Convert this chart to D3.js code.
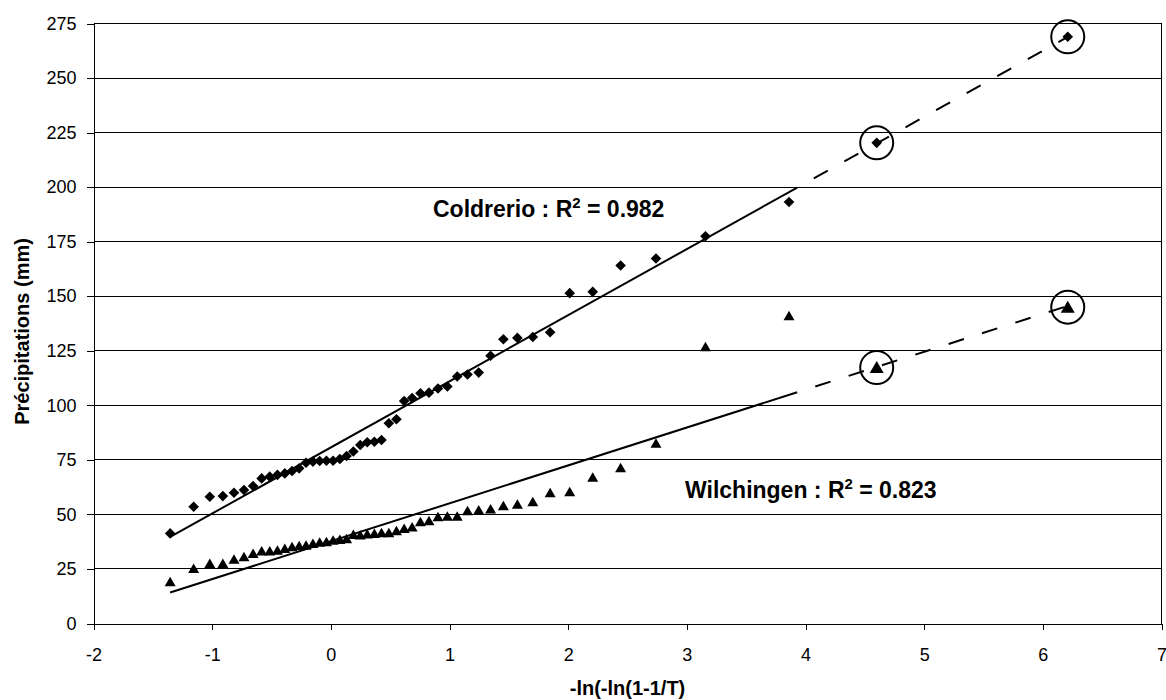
<!DOCTYPE html>
<html>
<head>
<meta charset="utf-8">
<script src="https://cdn.jsdelivr.net/npm/d3@7"></script>
<style>
  body { margin: 0; background: #fff; }
  svg { display: block; font-family: "Liberation Sans", Arial, sans-serif; }
</style>
</head>
<body>
<svg id="chart" width="1166" height="700"></svg>
<script>
// ---- data ----
// Gumbel reduced variate -ln(-ln(1-1/T)) of each ranked observation
const xValues = [-1.354, -1.156, -1.020, -0.910, -0.816, -0.732, -0.655, -0.583, -0.515, -0.450,
  -0.388, -0.327, -0.267, -0.209, -0.151, -0.094, -0.037, 0.019, 0.076, 0.133,
  0.190, 0.248, 0.307, 0.367, 0.427, 0.489, 0.553, 0.618, 0.685, 0.755,
  0.827, 0.903, 0.982, 1.065, 1.152, 1.246, 1.346, 1.454, 1.572, 1.702,
  1.848, 2.013, 2.207, 2.442, 2.740, 3.157, 3.861];
const coldrerio = [41.3, 53.5, 58.1, 58.4, 59.9, 61.2, 63.0, 66.5, 67.3, 68.1,
  68.8, 69.9, 71.1, 73.7, 74.2, 74.5, 74.6, 74.6, 75.4, 76.8,
  78.8, 81.8, 83.1, 83.3, 84.1, 91.8, 93.6, 102.0, 103.3, 105.5,
  105.8, 107.7, 108.6, 113.2, 114.1, 115.0, 122.7, 130.3, 130.9, 131.3,
  133.5, 151.4, 152.0, 164.1, 167.3, 177.5, 193.2];
const wilchingen = [19.1, 25.2, 27.5, 27.5, 29.5, 30.6, 32.1, 33.2, 33.2, 33.6,
  34.4, 35.2, 35.6, 35.9, 36.7, 37.2, 37.5, 38.2, 38.5, 38.8,
  40.8, 40.6, 41.0, 41.3, 41.6, 41.6, 42.5, 43.5, 44.2, 46.6,
  47.1, 48.9, 49.2, 49.2, 51.7, 52.0, 52.5, 54.0, 54.7, 55.8,
  59.9, 60.4, 67.0, 71.4, 82.6, 126.9, 141.0];
// extrapolated (circled) values for T = 100 and T = 500 years
const extrapX = [4.60, 6.21];
const coldrerioExtrap = [220.3, 268.9];
const wilchingenExtrap = [117.3, 145.0];
// fitted Gumbel lines (slope, intercept)
const fitSlopes = [30.3, 17.37];
const fitIntercepts = [80.7, 37.7];
const fitSolidRange = [-1.354, 3.93];
const fitDashRange = [3.93, 6.21];
const seriesNames = ["Coldrerio", "Wilchingen"];
const r2Values = ["0.982", "0.823"];
const xTicks = [-2, -1, 0, 1, 2, 3, 4, 5, 6, 7];
const yTicks = [0, 25, 50, 75, 100, 125, 150, 175, 200, 225, 250, 275];

// ---- layout ----
const svg = d3.select("#chart");
const plotL = 93.5, plotR = 1161.5, plotT = 23.5, plotB = 623.5;
const x = d3.scaleLinear().domain([-2, 7]).range([plotL, plotR]);
const y = d3.scaleLinear().domain([0, 275]).range([plotB, plotT]);

// gridlines
svg.append("g").selectAll("line").data(yTicks.filter(d => d > 0)).join("line")
  .attr("x1", plotL).attr("x2", plotR)
  .attr("y1", d => y(d)).attr("y2", d => y(d))
  .attr("stroke", "#000").attr("stroke-width", 1).attr("shape-rendering", "crispEdges");

// right border
svg.append("line").attr("x1", plotR).attr("x2", plotR).attr("y1", plotT).attr("y2", plotB)
  .attr("stroke", "#000").attr("shape-rendering", "crispEdges");

// axes
const yAxis = svg.append("g").attr("transform", `translate(${plotL},0)`)
  .call(d3.axisLeft(y).tickValues(yTicks).tickSize(7).tickPadding(10).tickFormat(d => String(d)));
const xAxis = svg.append("g").attr("transform", `translate(0,${plotB})`)
  .call(d3.axisBottom(x).tickValues(xTicks).tickSize(6).tickPadding(19).tickFormat(d => String(d)));
[yAxis, xAxis].forEach(g => {
  g.selectAll("path, line").attr("stroke", "#000").attr("shape-rendering", "crispEdges");
  g.selectAll("text").attr("font-size", 18).attr("fill", "#000")
    .attr("font-family", "'Liberation Sans', Arial, sans-serif");
});

// axis titles
svg.append("text").attr("x", (plotL + plotR) / 2).attr("y", 695)
  .attr("text-anchor", "middle").attr("font-size", 20).attr("font-weight", "bold")
  .text("-ln(-ln(1-1/T)");
svg.append("text").attr("transform", `translate(29,${(plotT + plotB) / 2 + 8}) rotate(-90)`)
  .attr("text-anchor", "middle").attr("font-size", 20).attr("font-weight", "bold")
  .text("Précipitations (mm)");

// fit lines
const lineGen = d3.line().x(d => x(d[0])).y(d => y(d[1]));
fitSlopes.forEach((s, i) => {
  const b = fitIntercepts[i];
  svg.append("path").datum(fitSolidRange.map(v => [v, b + s * v]))
    .attr("d", lineGen).attr("fill", "none").attr("stroke", "#000").attr("stroke-width", 2);
  svg.append("path").datum(fitDashRange.map(v => [v, b + s * v]))
    .attr("d", lineGen).attr("fill", "none").attr("stroke", "#000").attr("stroke-width", 2)
    .attr("stroke-dasharray", "16,19").attr("stroke-dashoffset", 16);
});

// markers
const diamond = "M0,-5.3L5.3,0L0,5.3L-5.3,0Z";
const triangle = "M0,-5L5.5,4.5L-5.5,4.5Z";
const bigTriangle = "M0,-6.5L7,5.5L-7,5.5Z";
svg.append("g").selectAll("path").data(xValues.map((v, i) => [v, coldrerio[i]])).join("path")
  .attr("d", diamond).attr("transform", d => `translate(${x(d[0])},${y(d[1])})`).attr("fill", "#000");
svg.append("g").selectAll("path").data(xValues.map((v, i) => [v, wilchingen[i]])).join("path")
  .attr("d", triangle).attr("transform", d => `translate(${x(d[0])},${y(d[1])})`).attr("fill", "#000");
svg.append("g").selectAll("path").data(extrapX.map((v, i) => [v, coldrerioExtrap[i]])).join("path")
  .attr("d", diamond).attr("transform", d => `translate(${x(d[0])},${y(d[1])})`).attr("fill", "#000");
svg.append("g").selectAll("path").data(extrapX.map((v, i) => [v, wilchingenExtrap[i]])).join("path")
  .attr("d", bigTriangle).attr("transform", d => `translate(${x(d[0])},${y(d[1])})`).attr("fill", "#000");

// circles around extrapolated values
const circled = extrapX.flatMap((v, i) => [[v, coldrerioExtrap[i]], [v, wilchingenExtrap[i]]]);
svg.append("g").selectAll("circle").data(circled).join("circle")
  .attr("cx", d => x(d[0])).attr("cy", d => y(d[1])).attr("r", 16.5)
  .attr("fill", "none").attr("stroke", "#000").attr("stroke-width", 2);

// annotations
const annoPos = [[433, 217], [685, 498]];
seriesNames.forEach((name, i) => {
  const t = svg.append("text").attr("x", annoPos[i][0]).attr("y", annoPos[i][1])
    .attr("font-size", 23).attr("font-weight", "bold").attr("fill", "#000");
  t.append("tspan").text(name + " : R");
  t.append("tspan").attr("font-size", 15).attr("dy", -9).text("2");
  t.append("tspan").attr("dy", 9).text(" = " + r2Values[i]);
});
</script>
</body>
</html>
